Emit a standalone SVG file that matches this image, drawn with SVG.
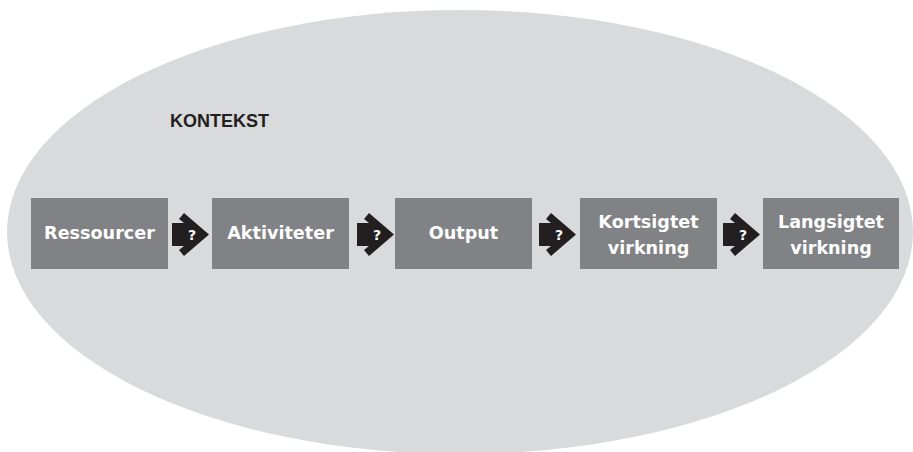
<svg xmlns="http://www.w3.org/2000/svg" width="913" height="452" viewBox="0 0 913 452">
<style>
.box{fill:#808285}
.lbl{font-family:"DejaVu Sans",sans-serif;font-weight:bold;font-size:17.6px;fill:#ffffff;text-anchor:middle}
.arr{fill:#231f20}
.q{font-family:"DejaVu Sans",sans-serif;font-weight:bold;font-size:14px;fill:#ffffff;text-anchor:middle}
</style>
<defs>
<polygon id="chev" points="0,223 12,223 7,219 12,213 37,234.5 12,256 7,250 12,246 0,246"/>
</defs>
<rect width="913" height="452" fill="#ffffff"/>
<ellipse cx="460" cy="232" rx="453" ry="222" fill="#d9dadb"/>
<text x="170" y="127" font-family="Liberation Sans, Arial, sans-serif" font-weight="bold" font-size="18" fill="#231f20">KONTEKST</text>
<g id="n1"><rect class="box" x="31" y="198" width="137" height="71"/><text class="lbl" x="99.5" y="239">Ressourcer</text></g>
<g id="n2"><rect class="box" x="212" y="198" width="137" height="71"/><text class="lbl" x="280.5" y="239">Aktiviteter</text></g>
<g id="n3"><rect class="box" x="395" y="198" width="137" height="71"/><text class="lbl" x="463.5" y="239">Output</text></g>
<g id="n4"><rect class="box" x="580" y="198" width="137" height="71"/><text class="lbl" x="648.5" y="228">Kortsigtet</text><text class="lbl" x="648.5" y="254">virkning</text></g>
<g id="n5"><rect class="box" x="763" y="198" width="136" height="71"/><text class="lbl" x="831" y="228">Langsigtet</text><text class="lbl" x="831" y="254">virkning</text></g>
<g id="connectors">
<g transform="translate(172,0)"><use href="#chev" class="arr"/><text class="q" x="20" y="240">?</text></g>
<g transform="translate(357,0)"><use href="#chev" class="arr"/><text class="q" x="20" y="240">?</text></g>
<g transform="translate(539,0)"><use href="#chev" class="arr"/><text class="q" x="20" y="240">?</text></g>
<g transform="translate(723,0)"><use href="#chev" class="arr"/><text class="q" x="20" y="240">?</text></g>
</g>
</svg>
